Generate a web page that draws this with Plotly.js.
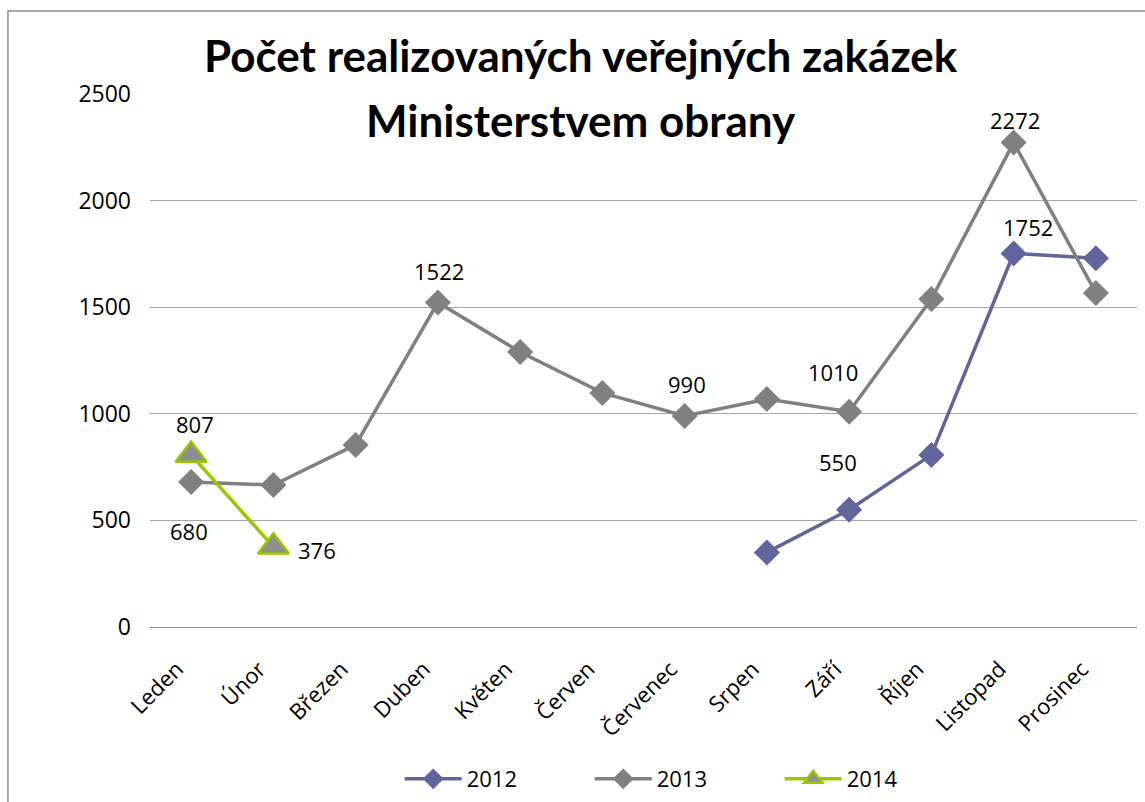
<!DOCTYPE html>
<html>
<head>
<meta charset="utf-8">
<script src="https://cdn.plot.ly/plotly-3.0.1.min.js"></script>
<style>
html,body{margin:0;padding:0;background:#fff;}
#chart{width:1145px;height:802px;}
</style>
</head>
<body>
<div id="chart"></div>
<script>
const months = ['Leden','Únor','Březen','Duben','Květen','Červen','Červenec','Srpen','Září','Říjen','Listopad','Prosinec'];
const values2012 = [null,null,null,null,null,null,null,350,550,807,1752,1730];
const values2013 = [680,666,854,1522,1290,1098,990,1069,1010,1538,2272,1567];
const values2014 = [807,376,null,null,null,null,null,null,null,null,null,null];
const yTicks = [0,500,1000,1500,2000,2500];
const titleLines = ['Počet realizovaných veřejných zakázek', 'Ministerstvem obrany'];
// indices of points carrying a data label
const labeled2012 = [8,10];
const labeled2013 = [0,3,6,8,10];
const labeled2014 = [0,1];

const c2012 = '#62649c', c2013 = '#808080', c2014 = '#99c800';

const traces = [
  {x: months, y: values2012, name: '2012', type: 'scatter', mode: 'lines+markers',
   line: {color: c2012, width: 3.5}, marker: {symbol: 'diamond', size: 20, color: c2012}},
  {x: months, y: values2013, name: '2013', type: 'scatter', mode: 'lines+markers',
   line: {color: c2013, width: 3.5}, marker: {symbol: 'diamond', size: 20, color: c2013}},
  {x: months, y: values2014, name: '2014', type: 'scatter', mode: 'lines+markers',
   line: {color: c2014, width: 3.5}, marker: {symbol: 'triangle-up', size: 27, color: '#8f8f8f', line: {color: c2014, width: 2.5}}}
];

// label offsets (px) per series/index
const offs = {
  '2012': {8: [-11, 48], 10: [14, 26]},
  '2013': {0: [-2, -49], 3: [1, 32], 6: [2, 32], 8: [-16, 40], 10: [1, 23]},
  '2014': {0: [4, 31], 1: [44, -3]}
};
const annotations = [];
function addLabels(series, vals, idxs){
  idxs.forEach(i => {
    const o = offs[series][i];
    annotations.push({x: months[i], y: vals[i], text: String(vals[i]), showarrow: false,
      xshift: o[0], yshift: o[1], font: {family: 'Open Sans', size: 22, color: '#000'}});
  });
}
addLabels('2012', values2012, labeled2012);
addLabels('2013', values2013, labeled2013);
addLabels('2014', values2014, labeled2014);

// title as two lines
annotations.push({xref: 'paper', yref: 'paper', x: 0.437, y: 1.0207, yanchor: 'bottom', showarrow: false,
  text: '<b>' + titleLines[0] + '</b>', font: {family: 'Lato', size: 44, color: '#000'}});
annotations.push({xref: 'paper', yref: 'paper', x: 0.437, y: 0.8987, yanchor: 'bottom', showarrow: false,
  text: '<b>' + titleLines[1] + '</b>', font: {family: 'Lato', size: 44, color: '#000'}});

const layout = {
  width: 1145, height: 802,
  margin: {l: 150, r: 8, t: 94, b: 175, autoexpand: false},
  paper_bgcolor: '#fff', plot_bgcolor: '#fff',
  xaxis: {type: 'category', categoryarray: months, range: [-0.5, 11.5], tickangle: -45, showgrid: false,
    showline: false, zeroline: false, ticks: '', ticklabelstandoff: 24, ticklabelshift: -14, automargin: false,
    tickfont: {family: 'Open Sans', size: 22, color: '#000'}},
  yaxis: {range: [0, 2500], tickvals: yTicks, ticktext: yTicks.map(String), automargin: false,
    showgrid: true, gridcolor: '#a6a6a6', gridwidth: 1, zeroline: true, zerolinecolor: '#888', zerolinewidth: 1,
    showline: false, ticks: '', ticklen: 0, ticklabelstandoff: 18,
    tickfont: {family: 'Open Sans', size: 23, color: '#000'}},
  showlegend: true,
  legend: {orientation: 'h', x: 0.253, xanchor: 'left', yref: 'container', y: 0.0287, yanchor: 'middle',
    entrywidth: 118, entrywidthmode: 'pixels', itemwidth: 57,
    font: {family: 'Open Sans', size: 22, color: '#000'}},
  annotations: annotations,
  shapes: [{type: 'rect', xref: 'paper', yref: 'paper', x0: -0.1439, x1: 1.05, y0: -0.4, y1: 1.1557,
    line: {color: '#8c8c8c', width: 1.5}, fillcolor: 'rgba(0,0,0,0)', layer: 'below'}]
};

Plotly.newPlot('chart', traces, layout, {displayModeBar: false, staticPlot: true});
</script>
</body>
</html>
